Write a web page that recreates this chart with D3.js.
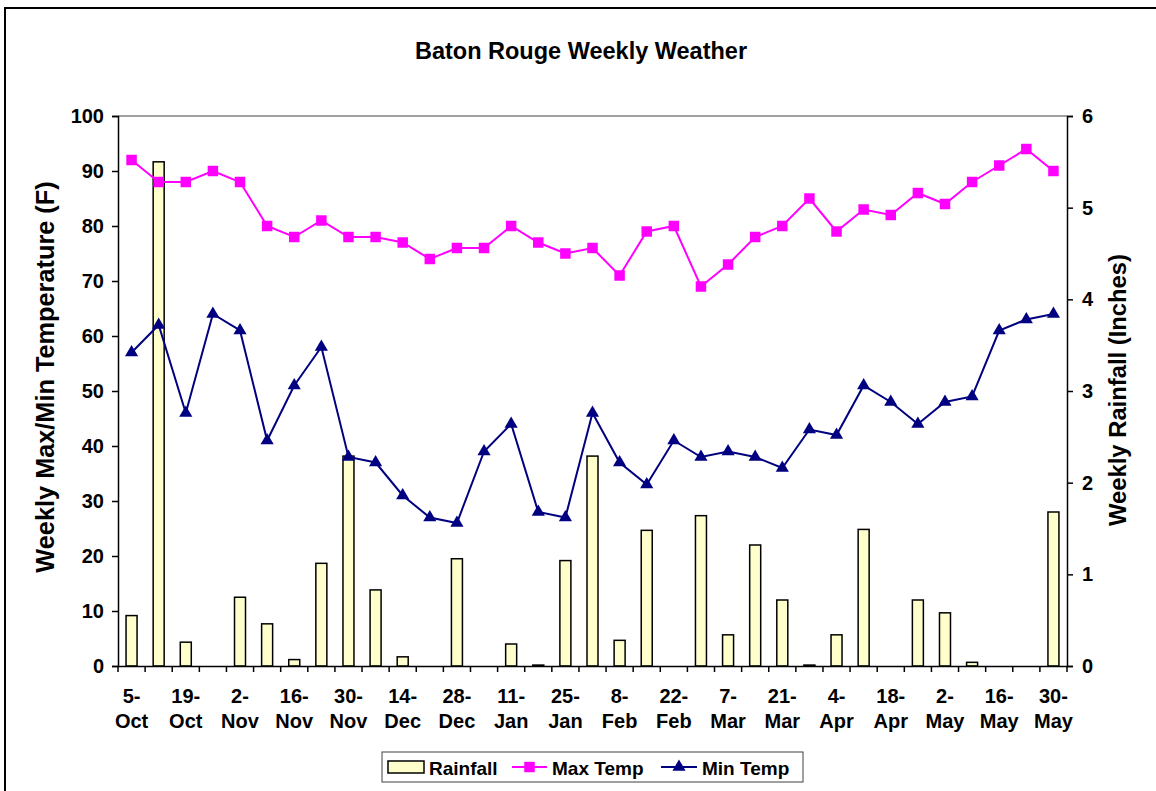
<!DOCTYPE html>
<html>
<head>
<meta charset="utf-8">
<script src="https://cdn.jsdelivr.net/npm/d3@7"></script>
<style>
  html, body { margin: 0; padding: 0; background: #fff; }
  svg { display: block; font-family: "Liberation Sans", Arial, sans-serif; font-weight: bold; }
</style>
</head>
<body>
<svg id="chart" width="1156" height="791"></svg>
<script>
const weeks = ["5-Oct","12-Oct","19-Oct","26-Oct","2-Nov","9-Nov","16-Nov","23-Nov","30-Nov","7-Dec","14-Dec","21-Dec","28-Dec","4-Jan","11-Jan","18-Jan","25-Jan","1-Feb","8-Feb","15-Feb","22-Feb","29-Feb","7-Mar","14-Mar","21-Mar","28-Mar","4-Apr","11-Apr","18-Apr","25-Apr","2-May","9-May","16-May","23-May","30-May"];
const rainfall = [0.55,5.50,0.26,0,0.75,0.46,0.07,1.12,2.29,0.83,0.10,0,1.17,0,0.24,0.01,1.15,2.29,0.28,1.48,0,1.64,0.34,1.32,0.72,0.01,0.34,1.49,0,0.72,0.58,0.04,0,0,1.68];
const maxTemp = [92,88,88,90,88,80,78,81,78,78,77,74,76,76,80,77,75,76,71,79,80,69,73,78,80,85,79,83,82,86,84,88,91,94,90];
const minTemp = [57,62,46,64,61,41,51,58,38,37,31,27,26,39,44,28,27,46,37,33,41,38,39,38,36,43,42,51,48,44,48,49,61,63,64];
const tempTicks = [0,10,20,30,40,50,60,70,80,90,100];
const rainTicks = [0,1,2,3,4,5,6];

const svg = d3.select("#chart");
const L = 118, R = 1067, T = 116, B = 666;

// outer border
svg.append("rect").attr("x",5).attr("y",8).attr("width",1170).attr("height",800)
  .attr("fill","#fff").attr("stroke","#000").attr("stroke-width",2);

const x = d3.scaleBand().domain(weeks).range([L, R]).padding(0);
const yT = d3.scaleLinear().domain([0,100]).range([B, T]);
const yR = d3.scaleLinear().domain([0,6]).range([B, T]);

// plot top border
svg.append("line").attr("x1",L).attr("x2",R).attr("y1",T).attr("y2",T)
  .attr("stroke","#808080").attr("stroke-width",1.5);

// bars
const bw = 11;
svg.append("g").selectAll("rect").data(weeks.map((w,i)=>({w, v: rainfall[i]})).filter(d=>d.v>0))
  .join("rect")
  .attr("x", d => x(d.w) + x.bandwidth()/2 - bw/2)
  .attr("y", d => yR(d.v))
  .attr("width", bw)
  .attr("height", d => Math.max(0.5, B - yR(d.v)))
  .attr("fill","#FFFFCC").attr("stroke","#000").attr("stroke-width",1.5);

// left axis
const gL = svg.append("g").attr("transform",`translate(${L},0)`)
  .call(d3.axisLeft(yT).tickValues(tempTicks).tickSize(6).tickPadding(8));
// right axis
const gR = svg.append("g").attr("transform",`translate(${R},0)`)
  .call(d3.axisRight(yR).tickValues(rainTicks).tickFormat(d3.format("d")).tickSize(6).tickPadding(9));
[gL,gR].forEach(g=>{
  g.select(".domain").attr("stroke","#000").attr("stroke-width",1.5);
  g.selectAll(".tick line").attr("stroke","#000").attr("stroke-width",1.5);
  g.selectAll(".tick text").attr("font-size",20).attr("font-weight","bold")
    .attr("font-family","'Liberation Sans', Arial, sans-serif").attr("fill","#000");
});

// bottom axis
const gB = svg.append("g").attr("transform",`translate(0,${B})`)
  .call(d3.axisBottom(x).tickSize(0).tickFormat(""));
gB.select(".domain").attr("stroke","#000").attr("stroke-width",1.5);
// boundary ticks
const bounds = weeks.map(w => x(w)).concat([R]);
gB.selectAll("line.bt").data(bounds).join("line").attr("class","bt")
  .attr("x1",d=>d).attr("x2",d=>d).attr("y1",0).attr("y2",6)
  .attr("stroke","#000").attr("stroke-width",1.5);
// labels
gB.selectAll("text.lbl").data(weeks.filter((w,i)=>i%2===0)).join("text").attr("class","lbl")
  .attr("text-anchor","middle").attr("font-size",20).attr("fill","#000")
  .each(function(w){
    const parts = w.split("-");
    const t = d3.select(this);
    const cx = x(w) + x.bandwidth()/2;
    t.append("tspan").attr("x",cx).attr("y",37).text(parts[0]+"-");
    t.append("tspan").attr("x",cx).attr("y",62).text(parts[1]);
  });

// lines
const lineGen = d3.line().x((d,i)=>x(weeks[i])+x.bandwidth()/2).y(d=>yT(d));
svg.append("path").datum(maxTemp).attr("d",lineGen).attr("fill","none")
  .attr("stroke","#FF00FF").attr("stroke-width",2);
svg.append("path").datum(minTemp).attr("d",lineGen).attr("fill","none")
  .attr("stroke","#000080").attr("stroke-width",2);

const sq = d3.symbol().type(d3.symbolSquare).size(110);
const tri = d3.symbol().type(d3.symbolTriangle).size(75);
svg.append("g").selectAll("path").data(maxTemp).join("path")
  .attr("d",sq).attr("fill","#FF00FF")
  .attr("transform",(d,i)=>`translate(${x(weeks[i])+x.bandwidth()/2},${yT(d)})`);
svg.append("g").selectAll("path").data(minTemp).join("path")
  .attr("d",tri).attr("fill","#000080")
  .attr("transform",(d,i)=>`translate(${x(weeks[i])+x.bandwidth()/2},${yT(d)})`);

// title
svg.append("text").attr("x",581).attr("y",59).attr("text-anchor","middle")
  .attr("font-size",23.5).attr("fill","#000").text("Baton Rouge Weekly Weather");
// axis titles
svg.append("text").attr("transform","translate(54,377) rotate(-90)").attr("text-anchor","middle")
  .attr("font-size",25.3).attr("fill","#000").text("Weekly Max/Min Temperature (F)");
svg.append("text").attr("transform","translate(1126,390) rotate(-90)").attr("text-anchor","middle")
  .attr("font-size",23.8).attr("fill","#000").text("Weekly Rainfall (Inches)");

// legend
const lg = svg.append("g");
lg.append("rect").attr("x",382).attr("y",752).attr("width",421).attr("height",30)
  .attr("fill","#fff").attr("stroke","#404040").attr("stroke-width",1);
lg.append("rect").attr("x",388).attr("y",761).attr("width",36).attr("height",12)
  .attr("fill","#FFFFCC").attr("stroke","#000").attr("stroke-width",1.5);
lg.append("text").attr("x",429).attr("y",775).attr("font-size",19).attr("fill","#000").text("Rainfall");
lg.append("line").attr("x1",512).attr("x2",547).attr("y1",767).attr("y2",767).attr("stroke","#FF00FF").attr("stroke-width",2);
lg.append("path").attr("d",sq).attr("fill","#FF00FF").attr("transform","translate(529.5,767)");
lg.append("text").attr("x",552).attr("y",775).attr("font-size",19).attr("fill","#000").text("Max Temp");
lg.append("line").attr("x1",661).attr("x2",697).attr("y1",767).attr("y2",767).attr("stroke","#000080").attr("stroke-width",2);
lg.append("path").attr("d",tri).attr("fill","#000080").attr("transform","translate(679,767)");
lg.append("text").attr("x",702).attr("y",775).attr("font-size",19).attr("fill","#000").text("Min Temp");
</script>
</body>
</html>
